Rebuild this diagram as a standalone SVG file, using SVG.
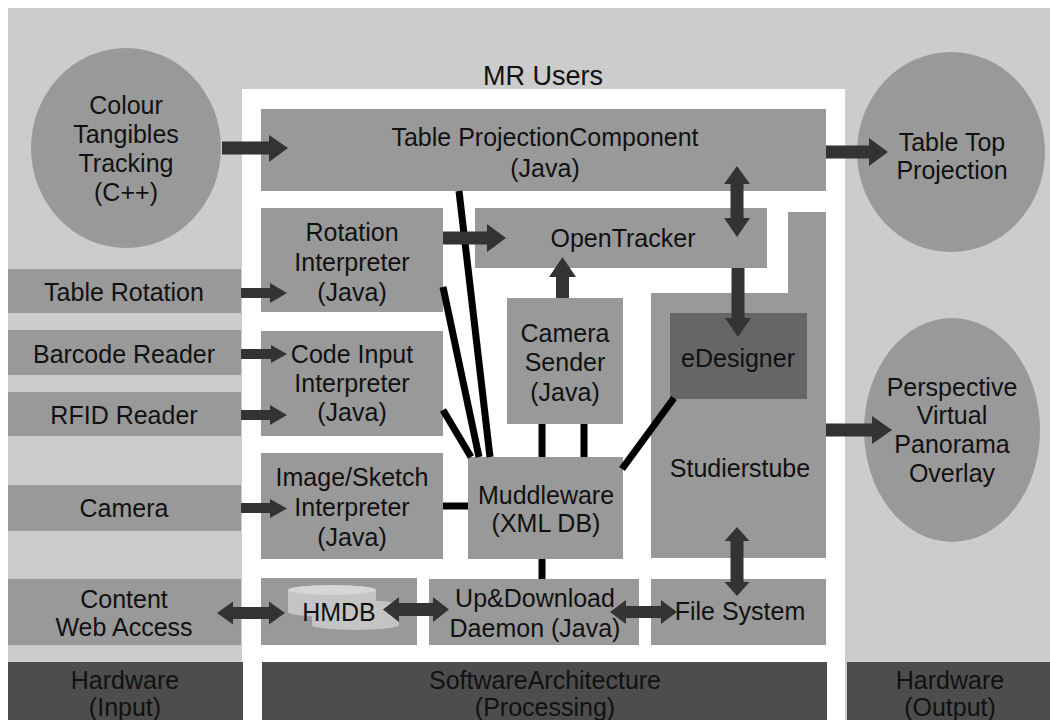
<svg xmlns="http://www.w3.org/2000/svg" width="1050" height="720" viewBox="0 0 1050 720">
  <style>
    text { font-family: "Liberation Sans", Arial, sans-serif; font-size: 25px; fill: #111; text-anchor: middle; }
    .box { fill: #999999; }
    .dark { fill: #666666; }
    .band { fill: #4d4d4d; }
    .arrow { fill: #333333; }
    .link { stroke: #000; stroke-width: 7; fill: none; }
  </style>

  <!-- backgrounds -->
  <rect x="0" y="0" width="1050" height="720" fill="#ffffff"/>
  <rect x="8" y="8" width="1042" height="712" fill="#cccccc"/>
  <rect x="242" y="89" width="603" height="631" fill="#ffffff"/>
  <text x="543" y="85" style="font-size:27px">MR Users</text>

  <!-- bottom layer bands -->
  <g id="band-input">
    <rect class="band" x="8" y="662" width="235" height="58"/>
    <text x="125" y="689">Hardware</text>
    <text x="125" y="716">(Input)</text>
  </g>
  <g id="band-processing">
    <rect class="band" x="262" y="662" width="565" height="58"/>
    <text x="545" y="689">SoftwareArchitecture</text>
    <text x="545" y="716">(Processing)</text>
  </g>
  <g id="band-output">
    <rect class="band" x="847" y="662" width="203" height="58"/>
    <text x="950" y="689">Hardware</text>
    <text x="950" y="716">(Output)</text>
  </g>

  <!-- input hardware -->
  <g id="colour-tracking">
    <ellipse class="box" cx="126" cy="148" rx="95" ry="100"/>
    <text x="126" y="114">Colour</text>
    <text x="126" y="143">Tangibles</text>
    <text x="126" y="172">Tracking</text>
    <text x="126" y="201">(C++)</text>
  </g>
  <g id="table-rotation">
    <rect class="box" x="8" y="269" width="233" height="44"/>
    <text x="124" y="301">Table Rotation</text>
  </g>
  <g id="barcode-reader">
    <rect class="box" x="8" y="330" width="233" height="45"/>
    <text x="124" y="363">Barcode Reader</text>
  </g>
  <g id="rfid-reader">
    <rect class="box" x="8" y="392" width="233" height="44"/>
    <text x="124" y="424">RFID Reader</text>
  </g>
  <g id="camera">
    <rect class="box" x="8" y="485" width="233" height="46"/>
    <text x="124" y="517">Camera</text>
  </g>
  <g id="content-web-access">
    <rect class="box" x="8" y="579" width="233" height="66"/>
    <text x="124" y="608">Content</text>
    <text x="124" y="636">Web Access</text>
  </g>

  <!-- software components -->
  <g id="table-projection-component">
    <rect class="box" x="261" y="109" width="565" height="82"/>
    <text x="545" y="146">Table ProjectionComponent</text>
    <text x="545" y="177">(Java)</text>
  </g>
  <g id="rotation-interpreter">
    <rect class="box" x="261" y="208" width="182" height="104"/>
    <text x="352" y="241">Rotation</text>
    <text x="352" y="271">Interpreter</text>
    <text x="352" y="301">(Java)</text>
  </g>
  <g id="opentracker">
    <rect class="box" x="475" y="208" width="292" height="60"/>
    <text x="623" y="247">OpenTracker</text>
  </g>
  <g id="code-input-interpreter">
    <rect class="box" x="261" y="331" width="182" height="105"/>
    <text x="352" y="363">Code Input</text>
    <text x="352" y="392">Interpreter</text>
    <text x="352" y="421">(Java)</text>
  </g>
  <g id="camera-sender">
    <rect class="box" x="507" y="298" width="116" height="126"/>
    <text x="565" y="342">Camera</text>
    <text x="565" y="371">Sender</text>
    <text x="565" y="401">(Java)</text>
  </g>
  <g id="studierstube">
    <polygon class="box" points="788,212 826,212 826,558 651,558 651,293 788,293"/>
    <text x="740" y="477">Studierstube</text>
  </g>
  <g id="edesigner">
    <rect class="dark" x="670" y="313" width="137" height="86"/>
    <text x="738" y="367">eDesigner</text>
  </g>
  <g id="image-sketch-interpreter">
    <rect class="box" x="261" y="453" width="182" height="106"/>
    <text x="352" y="486">Image/Sketch</text>
    <text x="352" y="516">Interpreter</text>
    <text x="352" y="546">(Java)</text>
  </g>
  <g id="muddleware">
    <rect class="box" x="468" y="457" width="155" height="102"/>
    <text x="546" y="504">Muddleware</text>
    <text x="546" y="532">(XML DB)</text>
  </g>
  <g id="hmdb">
    <rect class="box" x="261" y="578" width="156" height="67"/>
    <!-- stacked database cylinders -->
    <path d="M312,605 v20 a43.5,5 0 0 0 87,0 v-20 a43.5,5 0 0 0 -87,0 z" fill="#c4c4c4"/>
    <path d="M288,590 v22 a44,5 0 0 0 88,0 v-22 a44,5 0 0 0 -88,0 z" fill="#c4c4c4"/>
    <ellipse cx="332" cy="590" rx="44" ry="5" fill="#d6d6d6"/>
    <text x="339" y="621">HMDB</text>
  </g>
  <g id="up-download-daemon">
    <rect class="box" x="429" y="579" width="210" height="66"/>
    <text x="535" y="607">Up&amp;Download</text>
    <text x="535" y="637">Daemon (Java)</text>
  </g>
  <g id="file-system">
    <rect class="box" x="651" y="579" width="175" height="66"/>
    <text x="740" y="620">File System</text>
  </g>

  <!-- output hardware -->
  <g id="table-top-projection">
    <ellipse class="box" cx="951" cy="152" rx="94" ry="100"/>
    <text x="952" y="151">Table Top</text>
    <text x="952" y="179">Projection</text>
  </g>
  <g id="panorama-overlay">
    <ellipse class="box" cx="952" cy="430" rx="88" ry="112"/>
    <text x="952" y="396">Perspective</text>
    <text x="952" y="424">Virtual</text>
    <text x="952" y="453">Panorama</text>
    <text x="952" y="482">Overlay</text>
  </g>

  <!-- connectors -->
  <g id="connectors">
    <!-- Muddleware links -->
    <line class="link" x1="459" y1="191" x2="490" y2="457"/>
    <line class="link" x1="443" y1="287" x2="479" y2="457"/>
    <line class="link" x1="443" y1="410" x2="471" y2="457"/>
    <line class="link" x1="443" y1="506" x2="468" y2="506"/>
    <line class="link" x1="542" y1="424" x2="542" y2="457"/>
    <line class="link" x1="584" y1="424" x2="584" y2="457"/>
    <line class="link" x1="542" y1="559" x2="542" y2="579"/>
    <line class="link" x1="622" y1="469" x2="674" y2="398"/>

    <!-- large single arrows -->
    <polygon class="arrow" points="222,141.5 269,141.5 269,135 288,148 269,162 269,154.5 222,154.5"/>
    <polygon class="arrow" points="826,145.5 869,145.5 869,138 888,152 869,166 869,158.5 826,158.5"/>
    <polygon class="arrow" points="826,423.5 872,423.5 872,416 892,430 872,444 872,436.5 826,436.5"/>
    <polygon class="arrow" points="443,231.5 487,231.5 487,224 506,238 487,252 487,244.5 443,244.5"/>

    <!-- small input arrows -->
    <polygon class="arrow" points="241,288 270,288 270,283 287,293 270,303 270,298 241,298"/>
    <polygon class="arrow" points="241,349 271,349 271,345 287,354 271,363 271,359 241,359"/>
    <polygon class="arrow" points="241,410 270,410 270,405 287,415 270,425 270,420 241,420"/>
    <polygon class="arrow" points="241,503 270,503 270,499 287,508.5 270,518 270,513 241,513"/>

    <!-- vertical arrows -->
    <polygon class="arrow" points="556,298 556,277 549,277 562.5,257 576,277 569,277 569,298"/>
    <polygon class="arrow" points="731.5,268 731.5,318 725,318 738,337 751,318 744.5,318 744.5,268"/>
    <polygon class="arrow" points="737,166 750,184 743.5,184 743.5,218 750,218 737,237 724,218 730.5,218 730.5,184 724,184"/>
    <polygon class="arrow" points="737,527 749.5,541 743.5,541 743.5,582 749.5,582 737,596 724.5,582 730.5,582 730.5,541 724.5,541"/>

    <!-- bottom double arrows -->
    <polygon class="arrow" points="217,613 233,601.5 233,607 269,607 269,601.5 285,613 269,624.5 269,619 233,619 233,624.5"/>
    <polygon class="arrow" points="383,609.5 399,597 399,603 433,603 433,597 449,609.5 433,622 433,616 399,616 399,622"/>
    <polygon class="arrow" points="610,612 626,600 626,606 661,606 661,600 677,612 661,624 661,618 626,618 626,624"/>
  </g>
</svg>
